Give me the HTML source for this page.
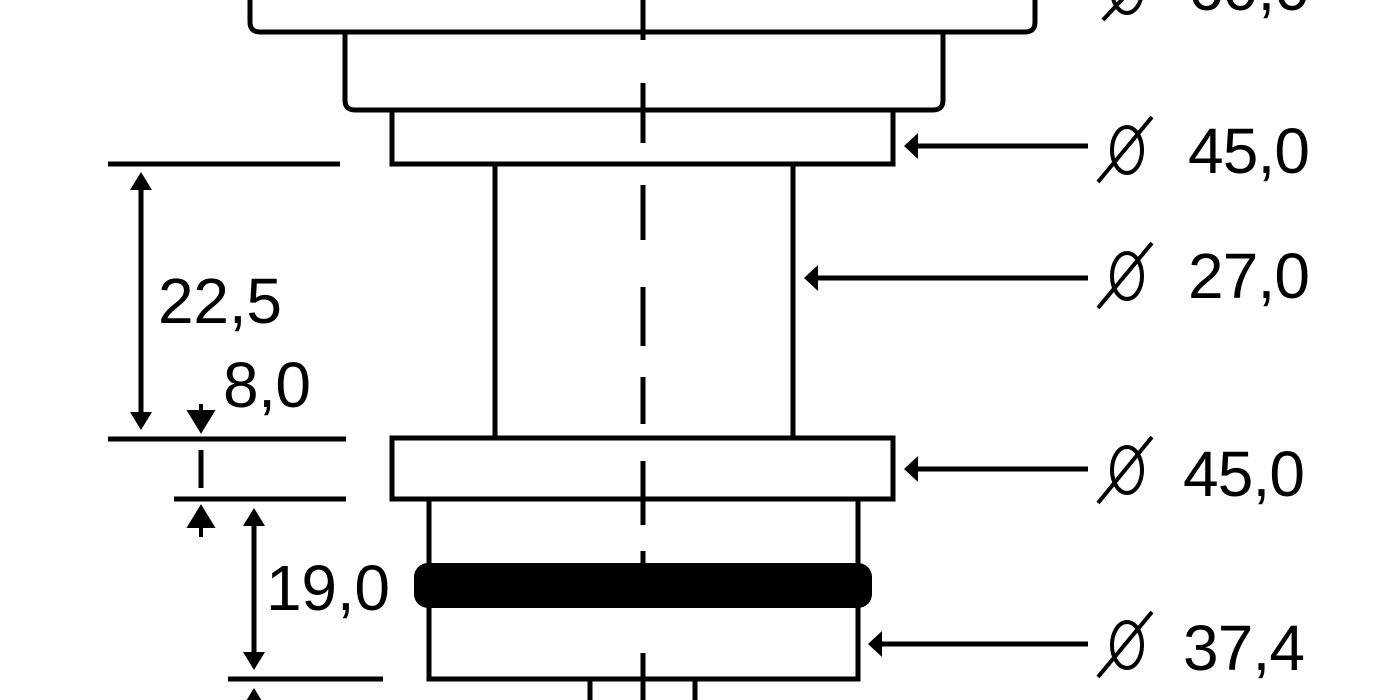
<!DOCTYPE html>
<html><head><meta charset="utf-8"><style>
html,body{margin:0;padding:0;background:#fdfefd;}
svg{display:block;}
text{font-family:"Liberation Sans",sans-serif;font-size:64px;fill:#000;}
</style></head><body>
<svg width="1400" height="700" viewBox="0 0 1400 700" xmlns="http://www.w3.org/2000/svg">
<g fill="none" stroke="#000" stroke-width="5">
<!-- top body -->
<path d="M250,-5 V22 Q250,32 260,32 H1025 Q1035,32 1035,22 V-5"/>
<path d="M345,32 V100 Q345,110 355,110 H933 Q943,110 943,100 V32"/>
<rect x="392" y="110" width="501" height="54"/>
<path d="M495,164 V438 M793,164 V438"/>
<rect x="392" y="438" width="501" height="61"/>
<path d="M429,499 V679 H858 V499"/>
<path d="M590,679 V705 M695,679 V705"/>
<!-- extension lines -->
<path d="M108,164 H340 M108,439 H346 M174,499 H346 M228,679 H383"/>
<!-- dim lines -->
<path d="M141,180 V420 M201,450 V488 M254,515 V662 M254,695 V705"/>
<!-- leaders -->
<path d="M908,146 H1088 M808,278 H1088 M908,469 H1088 M872,644 H1088"/>
<!-- diameter symbols -->
<g stroke-width="4">
<ellipse cx="1127" cy="150" rx="15" ry="23"/><path d="M1098,182 L1152,117"/>
<ellipse cx="1127" cy="276" rx="15" ry="23"/><path d="M1098,308 L1152,243"/>
<ellipse cx="1127" cy="470" rx="15" ry="23"/><path d="M1098,503 L1152,437"/>
<ellipse cx="1127" cy="645" rx="15" ry="23"/><path d="M1098,677 L1152,612"/>
<path d="M1103,20 L1140,-20"/><ellipse cx="1127" cy="-10" rx="15" ry="23"/>
</g>
<!-- center line -->
<path d="M643,0 V40 M643,83 V143 M643,185 V240 M643,287 V346 M643,377 V424 M643,461 V525 M643,551 V602 M643,653 V700"/>
</g>
<!-- o-ring -->
<rect x="414" y="563" width="458" height="45" rx="14" fill="#000"/>
<!-- arrowheads -->
<g fill="#000">
<path d="M141,172 L130,190 H152 Z"/>
<path d="M141,430 L130,412 H152 Z"/>
<path d="M201,430 L190,412 H212 Z M201,404 V420" stroke="#000" stroke-width="4"/>
<path d="M201,508 L190,526 H212 Z M201,520 V537" stroke="#000" stroke-width="4"/>
<path d="M254,508 L243,526 H265 Z"/>
<path d="M254,670 L243,652 H265 Z"/>
<path d="M254,688 L243,706 H265 Z"/>
<path d="M904,146 L918,133 V159 Z"/>
<path d="M804,278 L818,265 V291 Z"/>
<path d="M904,469 L918,456 V482 Z"/>
<path d="M868,644 L882,631 V657 Z"/>
</g>
<text x="158" y="323" textLength="124">22,5</text>
<text x="223" y="407" textLength="88">8,0</text>
<text x="266" y="610" textLength="124">19,0</text>
<text x="1188" y="173" textLength="122">45,0</text>
<text x="1188" y="298" textLength="122">27,0</text>
<text x="1183" y="496" textLength="122">45,0</text>
<text x="1183" y="670" textLength="122">37,4</text>
<text x="1188" y="10" textLength="122">60,0</text>
</svg>
</body></html>
